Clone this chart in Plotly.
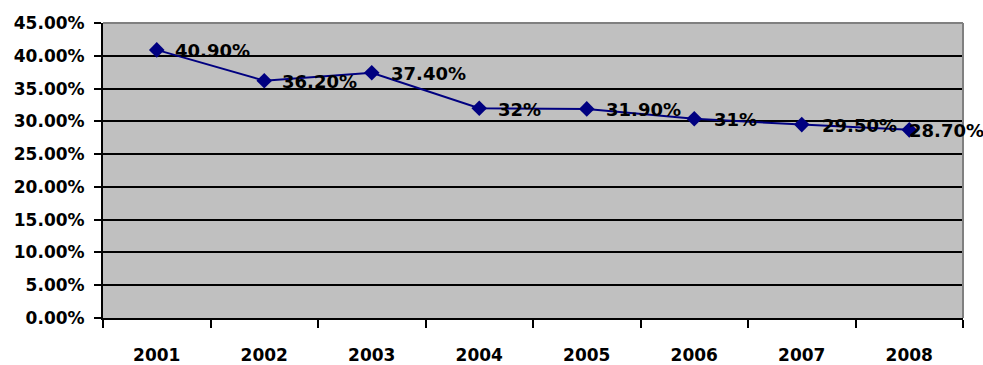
import plotly.graph_objects as go

years = ["2001", "2002", "2003", "2004", "2005", "2006", "2007", "2008"]
values = [0.409, 0.362, 0.374, 0.320, 0.319, 0.304, 0.295, 0.287]
labels = ["40.90%", "36.20%", "37.40%", "32%", "31.90%", "31%", "29.50%", "28.70%"]
label_shift = [16, 16, 17, 17, 17, 18, 18, -2]

FONT = "DejaVu Sans"

fig = go.Figure()
fig.add_trace(go.Scatter(
    x=years, y=values, mode="lines+markers",
    line=dict(color="#000080", width=2),
    marker=dict(symbol="diamond", size=12, color="#000080"),
    cliponaxis=False, showlegend=False,
))

annotations = [
    dict(x=i, y=v, xref="x", yref="y", text=t, showarrow=False,
         xanchor="left", yanchor="middle", xshift=s, yshift=-1,
         font=dict(family=FONT, size=18, color="black", weight="bold"))
    for i, (v, t, s) in enumerate(zip(values, labels, label_shift))
]

fig.update_layout(
    width=983, height=365,
    margin=dict(l=103, r=20, t=23, b=47),
    paper_bgcolor="white", plot_bgcolor="#C0C0C0",
    font=dict(family=FONT, size=17, color="black", weight="bold"),
    annotations=annotations,
    xaxis=dict(type="category", tickson="boundaries", ticks="outside", ticklen=8,
               tickcolor="black", tickwidth=2, showgrid=False, showline=True,
               linecolor="black", linewidth=2, range=[-0.5, 7.5],
               ticklabelstandoff=21, automargin=False,
               tickfont=dict(family=FONT, size=17, weight="bold")),
    yaxis=dict(range=[0, 0.45], dtick=0.05, tickformat=".2%", ticks="outside",
               ticklen=7, tickcolor="black", tickwidth=2, showgrid=True,
               gridcolor="black", gridwidth=2, showline=True, linecolor="black",
               linewidth=2, zeroline=False, ticklabelstandoff=6, automargin=False,
               tickfont=dict(family=FONT, size=17, weight="bold")),
    shapes=[
        dict(type="line", xref="paper", yref="paper", x0=0, x1=1, y0=1, y1=1,
             line=dict(color="#808080", width=2)),
        dict(type="line", xref="paper", yref="paper", x0=1, x1=1, y0=0, y1=1,
             line=dict(color="#808080", width=2)),
    ],
)

fig.write_html("out.html")
